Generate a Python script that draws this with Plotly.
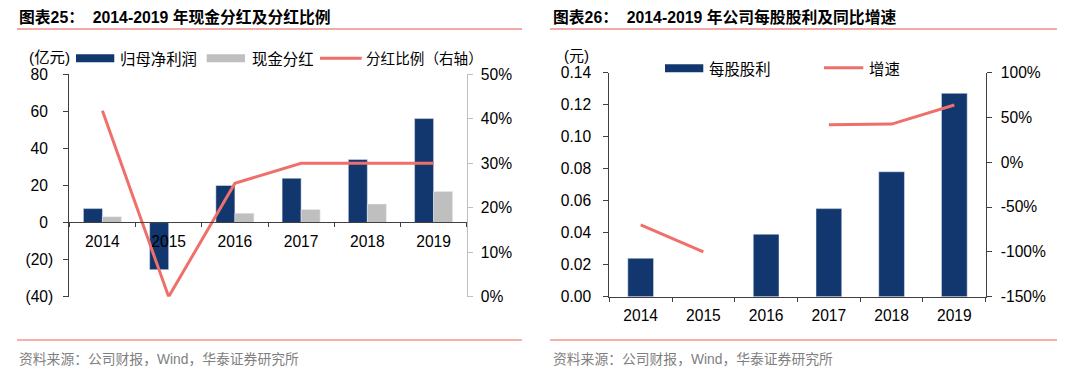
import plotly.graph_objects as go

# ---------------- data ----------------
years = ["2014", "2015", "2016", "2017", "2018", "2019"]
net_profit = [7.55, -25.4, 20.0, 23.9, 34.0, 56.1]       # 归母净利润 (亿元)
cash_dividend = [3.2, 0.0, 5.0, 7.0, 10.0, 16.7]        # 现金分红 (亿元)
payout_ratio = [0.418, 0.0, 0.255, 0.30, 0.30, 0.30]    # 分红比例 (右轴)

dps = [0.024, None, 0.039, 0.055, 0.078, 0.127]         # 每股股利 (元)
dps_growth = [-0.70, -1.00, None, 0.418, 0.425, 0.637]  # 增速 (右轴)

left_ticks = [80, 60, 40, 20, 0, -20, -40]
left_ticktext = ["80", "60", "40", "20", "0", "(20)", "(40)"]
ratio_ticks = [0, 0.1, 0.2, 0.3, 0.4, 0.5]
ratio_ticktext = ["0%", "10%", "20%", "30%", "40%", "50%"]
dps_ticks = [0, 0.02, 0.04, 0.06, 0.08, 0.10, 0.12, 0.14]
dps_ticktext = ["0.00", "0.02", "0.04", "0.06", "0.08", "0.10", "0.12", "0.14"]
growth_ticks = [-1.5, -1.0, -0.5, 0, 0.5, 1.0]
growth_ticktext = ["-150%", "-100%", "-50%", "0%", "50%", "100%"]

# ---------------- style ----------------
OFF = 8                      # default page body margin
W, H = 1080 - 2 * OFF, 376 - 2 * OFF
NAVY = "#12376F"
GRAY = "#BFBFBF"
RED = "#EF706B"
TITLE_LINE = "#EC8E86"
FONT = "Liberation Sans, Arial, Noto Sans CJK SC, sans-serif"
CJK = "Noto Sans CJK SC, sans-serif"
AX = "#404040"


def px(x):
    return (x - OFF) / W


def py(y):
    return 1 - (y - OFF) / H


# accounting-style labels: positives padded with an invisible ")"
left_labels = [t if t.startswith("(") else t + "<span style='color:white'>)</span>"
               for t in left_ticktext]

fig = go.Figure()

# left chart
fig.add_trace(go.Bar(x=years, y=net_profit, name="归母净利润", marker_color=NAVY,
                     width=0.287, offset=-0.287, xaxis="x", yaxis="y"))
fig.add_trace(go.Bar(x=years, y=cash_dividend, name="现金分红", marker_color=GRAY,
                     width=0.287, offset=0.0, xaxis="x", yaxis="y"))
fig.add_trace(go.Scatter(x=years, y=payout_ratio, name="分红比例（右轴）", mode="lines",
                         line=dict(color=RED, width=3), xaxis="x", yaxis="y2"))

# right chart
fig.add_trace(go.Bar(x=years, y=dps, name="每股股利", marker_color=NAVY,
                     width=0.41, offset=-0.205, xaxis="x3", yaxis="y3"))
fig.add_trace(go.Scatter(x=years, y=dps_growth, name="增速", mode="lines",
                         line=dict(color=RED, width=3), connectgaps=False,
                         xaxis="x3", yaxis="y4"))

tickfont = dict(family=FONT, size=15.6, color="#000000")

left_ydom = [py(296.7), py(74.3)]
right_ydom = [py(296.7), py(72.5)]

fig.update_layout(
    width=W, height=H,
    margin=dict(l=0, r=0, t=0, b=0, autoexpand=False),
    paper_bgcolor="white", plot_bgcolor="white",
    barmode="overlay",
    showlegend=False,
    font=dict(family=FONT, color="#000000"),
    xaxis=dict(domain=[px(69.3), px(466.7)], anchor="free", position=py(222.3),
               type="category", range=[-0.5, 5.5], automargin=False,
               showline=True, linecolor=AX, linewidth=1,
               ticks="outside", tickson="boundaries", ticklen=4, tickcolor=AX,
               showgrid=False, zeroline=False,
               tickfont=tickfont, ticklabelstandoff=5),
    yaxis=dict(domain=left_ydom, anchor="x", range=[-40, 80], automargin=False,
               tickvals=left_ticks, ticktext=left_labels,
               showline=True, linecolor=AX, linewidth=1,
               ticks="outside", ticklen=5, tickcolor=AX,
               showgrid=False, zeroline=False, tickfont=tickfont,
               ticklabelstandoff=7),
    yaxis2=dict(domain=left_ydom, anchor="x", overlaying="y", side="right",
                range=[0, 0.5], tickvals=ratio_ticks, ticktext=ratio_ticktext,
                automargin=False,
                showline=True, linecolor="#BFBFBF", linewidth=1,
                ticks="outside", ticklen=5, tickcolor="#BFBFBF",
                showgrid=False, zeroline=False, tickfont=tickfont,
                ticklabelstandoff=5),
    xaxis3=dict(domain=[px(609.3), px(985.7)], anchor="y3", automargin=False,
                type="category", range=[-0.5, 5.5],
                showline=True, linecolor=AX, linewidth=1,
                ticks="outside", tickson="boundaries", ticklen=4,
                tickcolor=AX,
                showgrid=False, zeroline=False, tickfont=tickfont,
                ticklabelstandoff=5),
    yaxis3=dict(domain=right_ydom, anchor="x3", range=[0, 0.14], automargin=False,
                tickvals=dps_ticks, ticktext=dps_ticktext,
                showline=True, linecolor=AX, linewidth=1,
                ticks="outside", ticklen=5, tickcolor=AX,
                showgrid=False, zeroline=False, tickfont=tickfont,
                ticklabelstandoff=9),
    yaxis4=dict(domain=right_ydom, anchor="x3", overlaying="y3", side="right",
                range=[-1.5, 1.0], tickvals=growth_ticks, ticktext=growth_ticktext,
                automargin=False,
                showline=True, linecolor=AX, linewidth=1,
                ticks="outside", ticklen=5, tickcolor=AX,
                showgrid=False, zeroline=False, tickfont=tickfont,
                ticklabelstandoff=6),
)

shapes = []
annotations = []


def text(x, y, s, size=13, color="#000000", family=CJK, anchor="left"):
    annotations.append(dict(x=px(x), y=py(y), xref="paper", yref="paper",
                            text=s, showarrow=False, xanchor=anchor, yanchor="middle",
                            borderpad=0,
                            font=dict(size=size, color=color, family=family)))


def hline(x0, x1, y, color, width):
    shapes.append(dict(type="line", xref="paper", yref="paper",
                       x0=px(x0), x1=px(x1), y0=py(y), y1=py(y),
                       line=dict(color=color, width=width)))


def rect(x0, x1, y0, y1, color):
    shapes.append(dict(type="rect", xref="paper", yref="paper",
                       x0=px(x0), x1=px(x1), y0=py(y1), y1=py(y0),
                       fillcolor=color, line=dict(width=0)))


# titles
text(18, 16.5, "<b>图表25：\u00a0\u00a02014-2019 年现金分红及分红比例</b>", size=15.8, family=FONT)
text(552, 16.5, "<b>图表26：\u00a0\u00a02014-2019 年公司每股股利及同比增速</b>", size=15.8, family=FONT)
hline(17, 522, 29, TITLE_LINE, 1.5)
hline(550, 1057, 29, TITLE_LINE, 1.5)

# bottom lines and sources
hline(17, 522, 340, "#F0605A", 1)
hline(550, 1057, 340, "#F0605A", 1)
text(17.5, 359, "资料来源：公司财报，Wind，华泰证券研究所", size=13.8, color="#7F7F7F", family=FONT)
text(551.5, 359, "资料来源：公司财报，Wind，华泰证券研究所", size=13.8, color="#7F7F7F", family=FONT)

# left legend
text(28, 57.5, "(亿元)", size=15.4, family=FONT)
rect(76, 114.3, 54.3, 62.3, NAVY)
text(119, 58, "归母净利润", size=15.4)
rect(206.7, 245, 54.3, 62.3, GRAY)
text(250.7, 58, "现金分红", size=15.4)
hline(320, 361.7, 58.3, RED, 3)
text(365, 58, "分红比例（右轴）", size=14.6)

# right legend
text(562.5, 56, "(元)", size=15, family=FONT)
rect(665, 703.3, 64.3, 72.3, NAVY)
text(708.3, 68.3, "每股股利", size=15.4)
hline(824, 863.3, 67.7, RED, 3)
text(868.3, 68.3, "增速", size=15.4)

fig.update_layout(shapes=shapes, annotations=annotations)

fig.write_html("out.html")
